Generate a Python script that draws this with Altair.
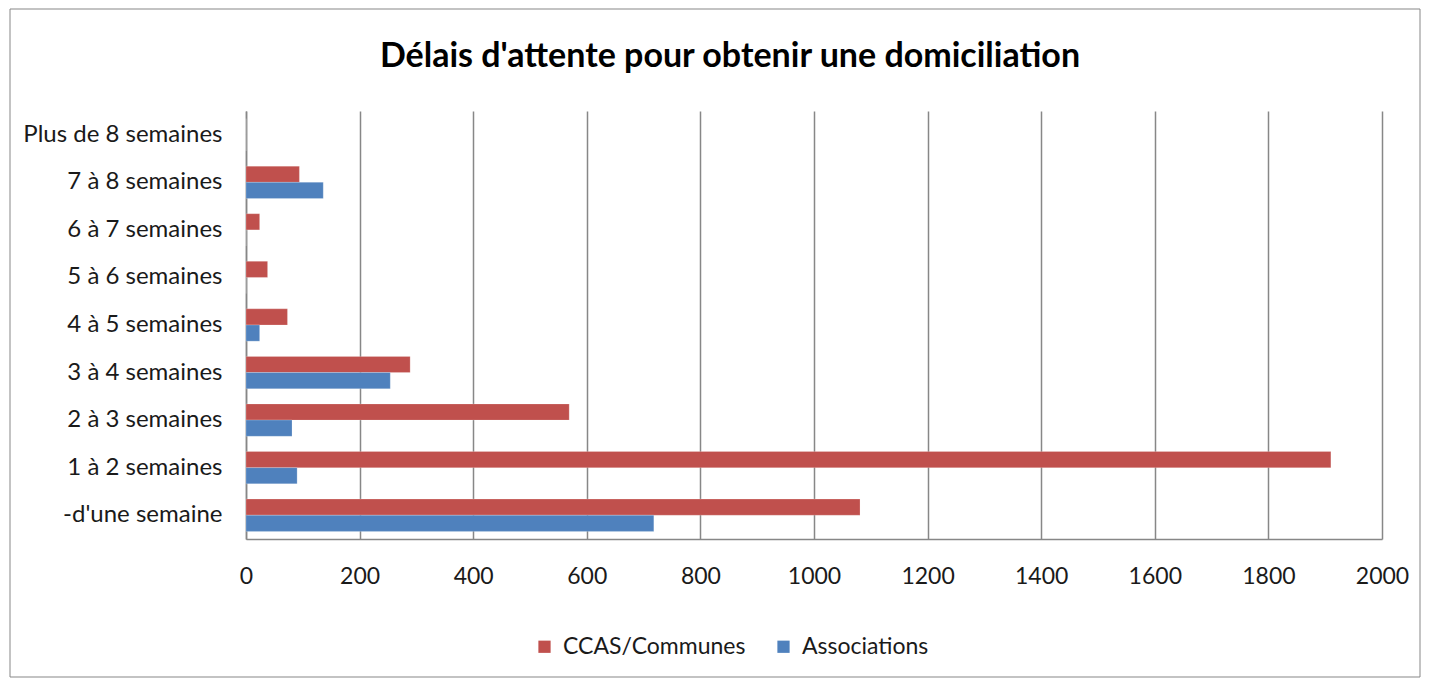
import altair as alt
import pandas as pd

categories = ["Plus de 8 semaines", "7 à 8 semaines", "6 à 7 semaines", "5 à 6 semaines",
              "4 à 5 semaines", "3 à 4 semaines", "2 à 3 semaines", "1 à 2 semaines",
              "-d'une semaine"]
ccas = [0, 94, 24, 38, 73, 289, 569, 1910, 1081]
assoc = [0, 136, 0, 0, 24, 254, 81, 90, 718]
series = ["CCAS/Communes", "Associations"]
colors = ["#C0504D", "#4F81BD"]
x_ticks = list(range(0, 2001, 200))

rows = []
for c, a, b in zip(categories, ccas, assoc):
    rows.append({"cat": c, "serie": series[0], "val": a})
    rows.append({"cat": c, "serie": series[1], "val": b})
df = pd.DataFrame(rows)

W, H = 1136, 428
FONT = "Lato"
GRAY = "#878787"

bars = alt.Chart(df).mark_bar(stroke="white", strokeWidth=0.5, strokeOpacity=0.4).encode(
    y=alt.Y("cat:N", sort=categories, scale=alt.Scale(paddingInner=0.32, paddingOuter=0.16),
            axis=alt.Axis(title=None, ticks=False, domainColor=GRAY, domainWidth=1.5,
                          labelFontSize=24, labelFont=FONT, labelColor="#1a1a1a",
                          labelPadding=24, labelLimit=400)),
    yOffset=alt.YOffset("serie:N", sort=series, scale=alt.Scale(paddingInner=0, paddingOuter=0)),
    x=alt.X("val:Q", scale=alt.Scale(domain=[0, 2000], nice=False),
            axis=alt.Axis(title=None, values=x_ticks, format="d", ticks=False, grid=True,
                          gridColor=GRAY, gridWidth=1.5, domainColor=GRAY, domainWidth=1.5,
                          labelFontSize=23, labelFont=FONT, labelColor="#1a1a1a",
                          labelPadding=26, labelFlush=False)),
    color=alt.Color("serie:N", sort=series,
                    scale=alt.Scale(domain=series, range=colors),
                    legend=alt.Legend(title=None, orient="none", direction="horizontal",
                                      legendX=287, legendY=524, symbolType="square",
                                      symbolSize=150, symbolStrokeWidth=0,
                                      labelFontSize=23, labelFont=FONT, labelColor="#1a1a1a",
                                      labelLimit=400, columnPadding=26, labelOffset=7)),
)

frame = alt.Chart(pd.DataFrame({"a": [0]})).mark_rect(
    fill=None, stroke=GRAY, strokeWidth=1
).encode(
    x=alt.value(-236), x2=alt.value(W + 38),
    y=alt.value(-102), y2=alt.value(H + 138),
)

chart = alt.layer(frame, bars).properties(
    width=W, height=H,
    padding={"left": 238, "top": 103, "right": 39, "bottom": 139},
    autosize=alt.AutoSizeParams(type="none"),
    title=alt.TitleParams("Délais d'attente pour obtenir une domiciliation",
                          fontSize=34, fontWeight="bold", font=FONT, color="#000000",
                          anchor="middle", frame="group", dx=-84, offset=0, dy=65),
).configure_view(stroke=None)

chart.save("out.html", embed_options={"renderer": "svg", "actions": False})
